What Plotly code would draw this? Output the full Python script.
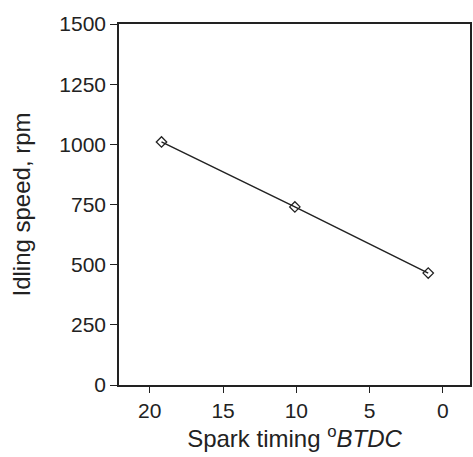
import plotly.graph_objects as go

spark_timing = [19.2, 10.1, 1.0]
idle_speed = [1010, 740, 465]
x_ticks = [20, 15, 10, 5, 0]
y_ticks = [0, 250, 500, 750, 1000, 1250, 1500]

fig = go.Figure()
fig.add_trace(go.Scatter(
    x=spark_timing, y=idle_speed, mode="lines+markers",
    line=dict(color="#222", width=1.5),
    marker=dict(symbol="diamond-open", size=8, color="#222", line=dict(width=1.3)),
    showlegend=False,
))

tick_font = dict(family="Liberation Sans, Arial, sans-serif", size=21, color="#222")
title_font = dict(family="Liberation Sans, Arial, sans-serif", size=24, color="#222")
fig.update_layout(
    width=473, height=457,
    margin=dict(l=119, r=1, t=24, b=72),
    paper_bgcolor="white", plot_bgcolor="white",
    font=tick_font,
    xaxis=dict(
        range=[22.1, -1.85], tickvals=x_ticks, ticks="outside", ticklen=6,
        tickcolor="#222", showline=True, linecolor="#222", linewidth=1.5,
        mirror=True, showgrid=False, zeroline=False, tickfont=tick_font,
        title=dict(text="Spark timing <sup>o</sup><i>BTDC</i>", font=title_font, standoff=8),
    ),
    yaxis=dict(
        range=[0, 1500], tickvals=y_ticks, ticks="outside", ticklen=7,
        tickcolor="#222", showline=True, linecolor="#222", linewidth=1.5,
        mirror=True, showgrid=False, zeroline=False, tickfont=tick_font,
        title=dict(text="Idling speed, rpm", font=title_font, standoff=22),
    ),
)
fig.write_html("out.html")
